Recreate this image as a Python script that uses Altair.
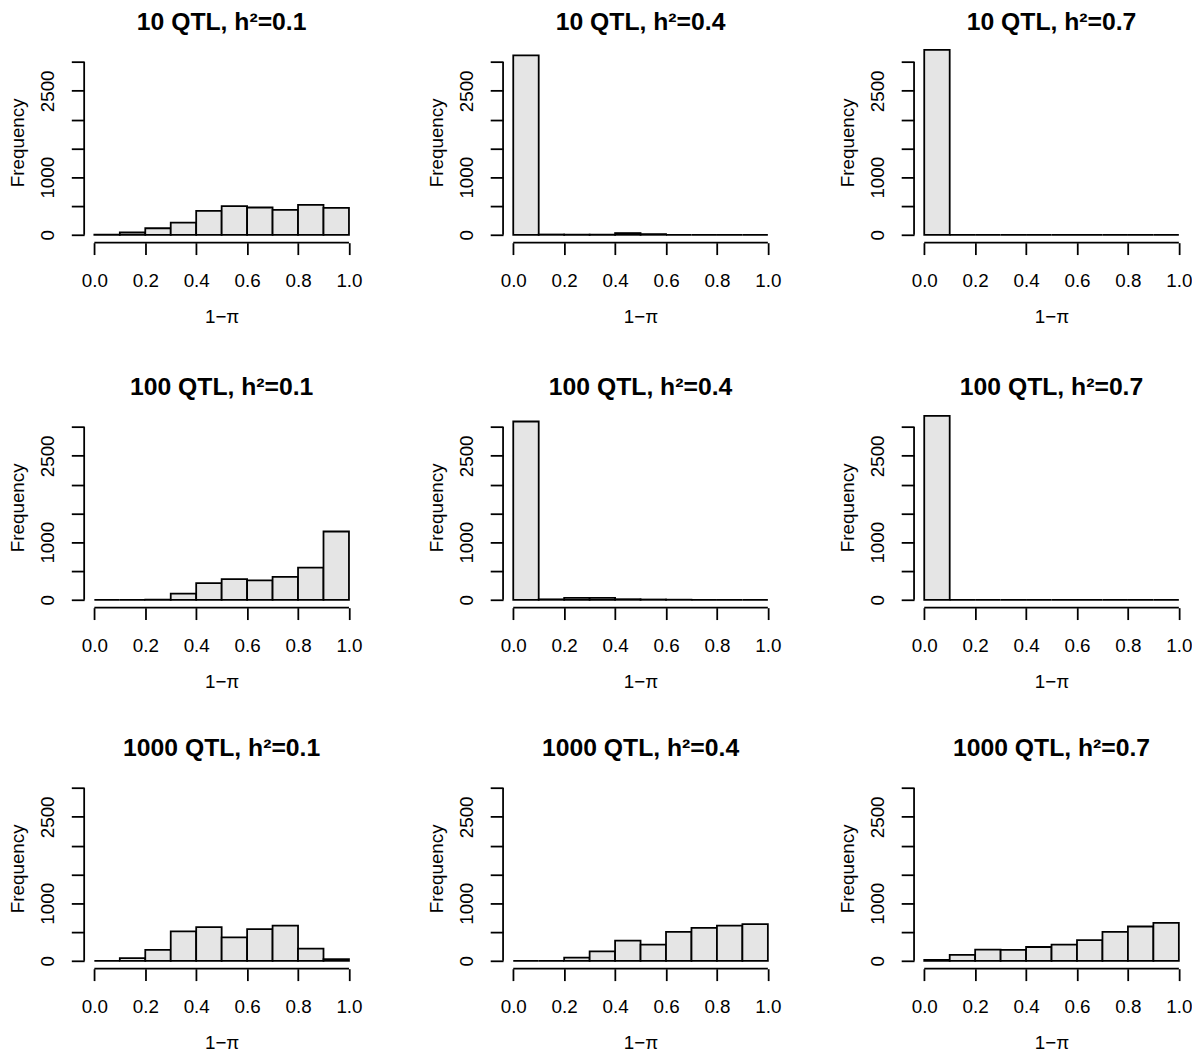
import altair as alt
import pandas as pd

# ---- data ----
bin_starts = [0.0, 0.1, 0.2, 0.3, 0.4, 0.5, 0.6, 0.7, 0.8, 0.9]
bin_width = 0.1

titles = [
    "10 QTL, h²=0.1", "10 QTL, h²=0.4", "10 QTL, h²=0.7",
    "100 QTL, h²=0.1", "100 QTL, h²=0.4", "100 QTL, h²=0.7",
    "1000 QTL, h²=0.1", "1000 QTL, h²=0.4", "1000 QTL, h²=0.7",
]

counts_10_01 = [3, 40, 114, 211, 417, 497, 474, 434, 520, 469]
counts_10_04 = [3115, 5, 4, 3, 30, 12, 0, 0, 0, 0]
counts_10_07 = [3213, 0, 0, 0, 0, 0, 0, 0, 0, 0]
counts_100_01 = [0, 0, 2, 108, 291, 359, 336, 399, 559, 1186]
counts_100_04 = [3096, 8, 34, 33, 10, 5, 2, 0, 0, 0]
counts_100_07 = [3193, 0, 0, 0, 0, 0, 0, 0, 0, 0]
counts_1000_01 = [0, 46, 189, 510, 584, 407, 550, 613, 212, 29]
counts_1000_04 = [0, 0, 57, 166, 349, 281, 504, 573, 613, 636]
counts_1000_07 = [17, 103, 195, 189, 240, 281, 361, 504, 596, 659]

all_counts = [
    counts_10_01, counts_10_04, counts_10_07,
    counts_100_01, counts_100_04, counts_100_07,
    counts_1000_01, counts_1000_04, counts_1000_07,
]

x_ticks = [0.0, 0.2, 0.4, 0.6, 0.8, 1.0]
y_ticks = [0, 500, 1000, 1500, 2000, 2500, 3000]
y_labels_shown = [0, 1000, 2500]

# ---- styling ----
FONT = "Liberation Sans"
X_DOMAIN = [-0.04, 1.04]
Y_DOMAIN = [-137, 3350]
W, H = 278, 203
FILL = "#e5e5e5"
LW = 1.8

label_test = " || ".join(f"datum.value == {v}" for v in y_labels_shown)

X_AXIS = alt.Axis(
    values=x_ticks, format=".1f", title="1−π",
    domain=False, grid=False, tickSize=12, tickWidth=LW,
    tickColor="black", labelFontSize=19, labelFont=FONT,
    labelColor="black", labelPadding=17, labelFlush=False,
    labelOverlap=False, titleFontSize=19, titleFont=FONT,
    titleFontWeight="normal", titleColor="black", titlePadding=18,
)
Y_AXIS = alt.Axis(
    values=y_ticks, format="d", title="Frequency",
    labelExpr=f"({label_test}) ? datum.label : ''",
    domain=False, grid=False, tickSize=13, tickWidth=LW,
    tickColor="black", labelAngle=-90, labelAlign="center",
    labelBaseline="alphabetic", labelFontSize=19, labelFont=FONT,
    labelColor="black", labelPadding=17.5, labelOverlap=False,
    labelFlush=False,
    titleFontSize=19, titleFont=FONT, titleFontWeight="normal",
    titleColor="black", titlePadding=12,
)


def panel(title, counts):
    df = pd.DataFrame({
        "x0": bin_starts,
        "x1": [b + bin_width for b in bin_starts],
        "count": counts,
    })
    xs = alt.Scale(domain=X_DOMAIN, nice=False, zero=False)
    ys = alt.Scale(domain=Y_DOMAIN, nice=False, zero=False)
    bars = alt.Chart(df).mark_rect(
        fill=FILL, stroke="black", strokeWidth=LW
    ).encode(
        x=alt.X("x0:Q", scale=xs, axis=X_AXIS),
        x2="x1:Q",
        y=alt.Y("count:Q", scale=ys, axis=Y_AXIS),
        y2=alt.datum(0),
    )
    xaxis_df = pd.DataFrame({"a": [x_ticks[0]], "b": [x_ticks[-1]], "y": [Y_DOMAIN[0]]})
    xline = alt.Chart(xaxis_df).mark_rule(color="black", strokeWidth=LW).encode(
        x=alt.X("a:Q", scale=xs, axis=X_AXIS), x2="b:Q",
        y=alt.Y("y:Q", scale=ys, axis=Y_AXIS))
    yaxis_df = pd.DataFrame({"x": [X_DOMAIN[0]], "a": [y_ticks[0]], "b": [y_ticks[-1]]})
    yline = alt.Chart(yaxis_df).mark_rule(color="black", strokeWidth=LW).encode(
        x=alt.X("x:Q", scale=xs, axis=X_AXIS),
        y=alt.Y("a:Q", scale=ys, axis=Y_AXIS), y2="b:Q")
    return alt.layer(bars, xline, yline).properties(
        width=W, height=H,
        title=alt.Title(title, fontSize=25, fontWeight="bold", font=FONT,
                        color="black", anchor="middle", frame="group",
                        baseline="alphabetic", offset=-13),
    )


panels = [panel(t, c) for t, c in zip(titles, all_counts)]


def row(ps):
    return alt.hconcat(ps[0], alt.hconcat(ps[1], ps[2], spacing=57.5), spacing=65.5)


rows = [row(panels[i * 3:(i + 1) * 3]) for i in range(3)]
chart = alt.vconcat(
    rows[0], alt.vconcat(rows[1], rows[2], spacing=45), spacing=49
).properties(
    padding={"left": 0, "top": -3.5, "right": 0, "bottom": 0},
    background="white",
).configure_view(strokeWidth=0)

chart.save("out.html", embed_options={"renderer": "svg", "actions": False})
